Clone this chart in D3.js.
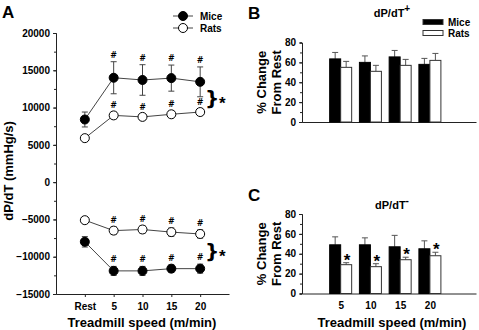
<!DOCTYPE html>
<html>
<head>
<meta charset="utf-8">
<script src="https://cdn.jsdelivr.net/npm/d3@7"></script>
<style>
  html, body { margin: 0; padding: 0; background: #fff; }
  svg { display: block; font-family: "Liberation Sans", Arial, sans-serif; font-weight: bold; }
  svg text { fill: #000; }
</style>
</head>
<body>
<div id="chart"></div>
<script>
// ---- data ----
const speeds = ["Rest", "5", "10", "15", "20"];
const miceUp = [8400, 14000, 13700, 13950, 13450];
const miceUpErr = [1000, 2150, 2050, 1750, 2000];
const ratsUp = [5900, 8950, 8750, 9100, 9400];
const ratsUpErr = [300, 450, 450, 450, 450];
const miceDown = [-8000, -11900, -11900, -11600, -11600];
const miceDownErr = [700, 600, 600, 500, 600];
const ratsDown = [-5100, -6500, -6350, -6700, -6950];
const ratsDownErr = [400, 500, 500, 550, 550];
const yTicksA = [-15000, -10000, -5000, 0, 5000, 10000, 15000, 20000];

const exSpeeds = ["5", "10", "15", "20"];
const miceB = [63.5, 60, 65.5, 58];
const miceBErr = [6.5, 6.5, 6.5, 6];
const ratsB = [55, 51, 57, 62];
const ratsBErr = [6, 6, 6, 7];
const miceC = [49, 49, 47, 45];
const miceCErr = [8, 7, 11.5, 8];
const ratsC = [29, 27, 34, 38];
const ratsCErr = [2, 3, 2.5, 3.5];
const yTicksBC = [0, 20, 40, 60, 80];

const W = 479, H = 330;
const ink = "#222";

const svg = d3.select("#chart").append("svg").attr("width", W).attr("height", H);

function styleAxis(g) {
    g.selectAll("path, line").attr("stroke", ink).attr("stroke-width", 1);
    g.selectAll("text").attr("font-size", 10).attr("font-weight", "bold").attr("fill", "#000")
        .attr("font-family", "Liberation Sans, Arial, sans-serif");
}

// ==========================================
// PANEL A
// ==========================================
const xA = d3.scaleLinear().domain([-1, 5]).range([56, 229]);
const yA = d3.scaleLinear().domain([-15000, 20000]).range([294, 33]);

// minor ticks
svg.append("g").attr("transform", "translate(56,0)")
    .call(d3.axisLeft(yA).tickValues(d3.range(-15000, 20001, 2500)).tickSize(2).tickFormat(""))
    .call(styleAxis);
svg.append("g").attr("transform", "translate(56,0)")
    .call(d3.axisLeft(yA).tickValues(yTicksA).tickSize(3).tickSizeOuter(0).tickPadding(3)
        .tickFormat(d3.format("d")))
    .call(styleAxis);
svg.append("g").attr("transform", `translate(0,${yA(-15000)})`)
    .call(d3.axisBottom(xA).tickValues(d3.range(speeds.length)).tickSize(3).tickSizeOuter(0)
        .tickPadding(6).tickFormat(i => speeds[i]))
    .call(styleAxis);

svg.append("text").attr("x", 2).attr("y", 18).attr("font-size", 17).text("A");
svg.append("text").attr("transform", `translate(13,${yA(1500)}) rotate(-90)`)
    .attr("text-anchor", "middle").attr("font-size", 13).text("dP/dT (mmHg/s)");
svg.append("text").attr("x", 142).attr("y", 327).attr("text-anchor", "middle")
    .attr("font-size", 13).text("Treadmill speed (m/min)");

// small marks (#, *, braces), kept in one group on top
const marks = svg.append("g").attr("fill", "#000");

function drawSeries(vals, errs, filled) {
    const pts = vals.map((v, i) => [i, v, errs[i]]);
    const line = d3.line().x(d => xA(d[0])).y(d => yA(d[1]));
    svg.append("path").datum(pts).attr("fill", "none").attr("stroke", "#444").attr("stroke-width", 1).attr("d", line);
    const eb = svg.append("g").attr("stroke", "#444").attr("stroke-width", 1);
    pts.forEach(d => {
        const x = xA(d[0]);
        eb.append("line").attr("x1", x).attr("x2", x).attr("y1", yA(d[1] - d[2])).attr("y2", yA(d[1] + d[2]));
        eb.append("line").attr("x1", x - 3).attr("x2", x + 3).attr("y1", yA(d[1] + d[2])).attr("y2", yA(d[1] + d[2]));
        eb.append("line").attr("x1", x - 3).attr("x2", x + 3).attr("y1", yA(d[1] - d[2])).attr("y2", yA(d[1] - d[2]));
    });
    svg.append("g").selectAll("circle").data(pts).join("circle")
        .attr("cx", d => xA(d[0])).attr("cy", d => yA(d[1])).attr("r", 4.5)
        .attr("fill", filled ? "#000" : "#fff").attr("stroke", "#000").attr("stroke-width", 1);
    marks.append("g").selectAll("text").data(pts.slice(1)).join("text")
        .attr("x", d => xA(d[0])).attr("y", d => yA(d[1] + d[2]) - 4)
        .attr("font-family", "DejaVu Sans, sans-serif")
        .attr("text-anchor", "middle").attr("font-size", 8).text("#");
}
drawSeries(ratsUp, ratsUpErr, false);
drawSeries(miceUp, miceUpErr, true);
drawSeries(ratsDown, ratsDownErr, false);
drawSeries(miceDown, miceDownErr, true);

// significance braces
[11300, -9300].forEach(v => {
    marks.append("text").attr("x", 205).attr("y", yA(v) + 7)
        .attr("font-family", "DejaVu Sans, sans-serif").attr("font-size", 20).text("}");
    marks.append("text").attr("x", 219).attr("y", yA(v) + 11).attr("font-size", 17).text("*");
});

// legend A
const legA = svg.append("g").attr("transform", "translate(173,16)");
[["Mice", true], ["Rats", false]].forEach(([name, filled], i) => {
    const gy = i * 12;
    legA.append("line").attr("x1", 0).attr("x2", 20).attr("y1", gy).attr("y2", gy).attr("stroke", "#444");
    legA.append("circle").attr("cx", 10).attr("cy", gy).attr("r", 4.5)
        .attr("fill", filled ? "#000" : "#fff").attr("stroke", "#000");
    legA.append("text").attr("x", 27).attr("y", gy + 4).attr("font-size", 10).text(name);
});

// ==========================================
// PANELS B & C
// ==========================================
const xBC = d3.scaleLinear().domain([-1.3, 4.55]).range([302, 476]);
const barW = 11;

function drawBarPanel(y0, y80, mice, miceErr, rats, ratsErr, showX, stars) {
    const y = d3.scaleLinear().domain([0, 80]).range([y0, y80]);
    svg.append("g").attr("transform", "translate(302,0)")
        .call(d3.axisLeft(y).tickValues(d3.range(0, 81, 10)).tickSize(2).tickFormat(""))
        .call(styleAxis);
    svg.append("g").attr("transform", "translate(302,0)")
        .call(d3.axisLeft(y).tickValues(yTicksBC).tickSize(3).tickSizeOuter(0).tickPadding(3))
        .call(styleAxis);
    svg.append("g").attr("transform", `translate(0,${y0})`)
        .call(d3.axisBottom(xBC).tickValues(d3.range(exSpeeds.length)).tickSize(0).tickSizeOuter(0)
            .tickPadding(8).tickFormat(i => showX ? exSpeeds[i] : ""))
        .call(styleAxis);

    const g = svg.append("g");
    exSpeeds.forEach((s, i) => {
        const cx = xBC(i);
        // error whiskers (upward)
        [[cx - barW / 2, mice[i], miceErr[i]], [cx + barW / 2, rats[i], ratsErr[i]]].forEach(([bx, v, e]) => {
            g.append("line").attr("x1", bx).attr("x2", bx).attr("y1", y(v)).attr("y2", y(v + e)).attr("stroke", "#555");
            g.append("line").attr("x1", bx - 3).attr("x2", bx + 3).attr("y1", y(v + e)).attr("y2", y(v + e)).attr("stroke", "#555");
        });
        g.append("rect").attr("x", cx - barW).attr("y", y(mice[i])).attr("width", barW)
            .attr("height", y(0) - y(mice[i])).attr("fill", "#000").attr("stroke", "#000");
        g.append("rect").attr("x", cx).attr("y", y(rats[i])).attr("width", barW)
            .attr("height", y(0) - y(rats[i])).attr("fill", "#fff").attr("stroke", "#333");
        if (stars) {
            marks.append("text").attr("x", cx + barW / 2 + 1).attr("y", y(rats[i] + ratsErr[i]) + 3)
                .attr("text-anchor", "middle").attr("font-size", 17).text("*");
        }
    });

    const yc = (y0 + y80) / 2;
    svg.append("text").attr("transform", `translate(266,${yc}) rotate(-90)`)
        .attr("text-anchor", "middle").attr("font-size", 13).text("% Change");
    svg.append("text").attr("transform", `translate(281,${yc}) rotate(-90)`)
        .attr("text-anchor", "middle").attr("font-size", 13).text("From Rest");
}

drawBarPanel(122, 42.5, miceB, miceBErr, ratsB, ratsBErr, false, false);
drawBarPanel(293.5, 214, miceC, miceCErr, ratsC, ratsCErr, true, true);
marks.raise();

svg.append("text").attr("x", 248).attr("y", 19).attr("font-size", 17).text("B");
svg.append("text").attr("x", 248).attr("y", 201).attr("font-size", 17).text("C");

const tB = svg.append("text").attr("x", 392).attr("y", 17).attr("text-anchor", "middle").attr("font-size", 11);
tB.append("tspan").text("dP/dT");
tB.append("tspan").attr("dy", -5).attr("font-size", 10).text("+");
const tC = svg.append("text").attr("x", 392).attr("y", 209).attr("text-anchor", "middle").attr("font-size", 11);
tC.append("tspan").text("dP/dT");
tC.append("tspan").attr("dy", -5).attr("font-size", 10).text("-");

svg.append("text").attr("x", 392).attr("y", 327).attr("text-anchor", "middle")
    .attr("font-size", 13).text("Treadmill speed (m/min)");

// legend B
const legB = svg.append("g").attr("transform", "translate(423,22)");
[["Mice", "#000"], ["Rats", "#fff"]].forEach(([name, fill], i) => {
    legB.append("rect").attr("x", 0).attr("y", i * 11 - 2.5).attr("width", 20).attr("height", 5)
        .attr("fill", fill).attr("stroke", "#333");
    legB.append("text").attr("x", 25).attr("y", i * 11 + 4).attr("font-size", 10).text(name);
});
</script>
</body>
</html>
